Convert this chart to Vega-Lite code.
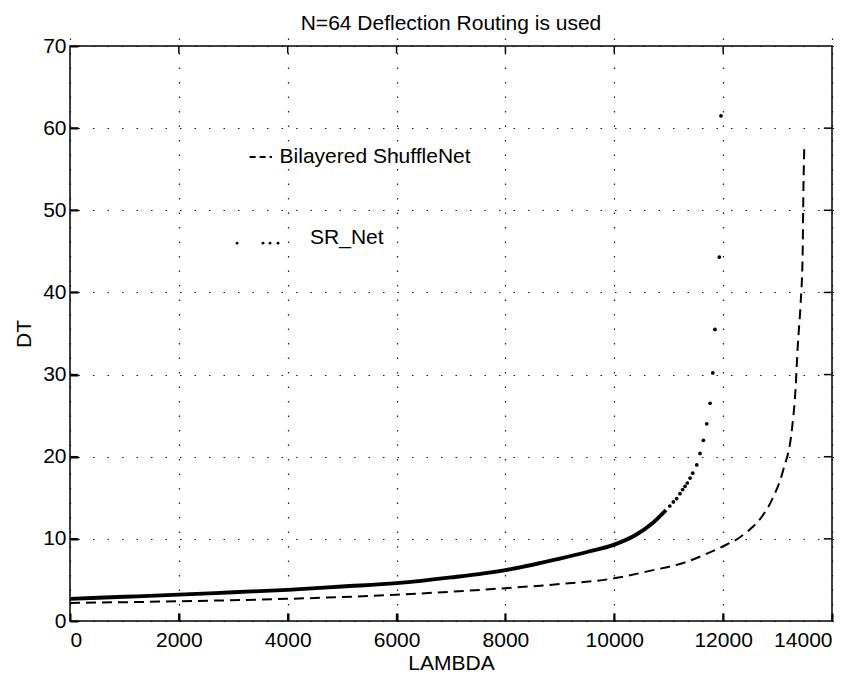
{
  "$schema": "https://vega.github.io/schema/vega-lite/v6.json",
  "width": 762,
  "height": 575,
  "autosize": {"type": "none"},
  "padding": {"left": 70, "top": 46, "right": 34, "bottom": 52},
  "background": "white",
  "config": {
    "font": "Liberation Sans",
    "view": {"stroke": "black", "strokeWidth": 1.5},
    "axis": {
      "domain": false,
      "ticks": true,
      "tickColor": "black",
      "tickOpacity": 1,
      "tickWidth": 2,
      "tickSize": 8,
      "offset": -8,
      "labelColor": "black",
      "labelFont": "Liberation Sans",
      "labelFontSize": 21,
      "titleColor": "black",
      "titleFont": "Liberation Sans",
      "titleFontSize": 21,
      "titleFontWeight": "normal",
      "gridColor": "black",
      "gridDash": [1.5, 13],
      "gridWidth": 1.2,
      "gridOpacity": 0.9
    }
  },
  "title": {
    "text": "N=64 Deflection Routing is used",
    "font": "Liberation Sans",
    "fontSize": 21,
    "fontWeight": "normal",
    "color": "black",
    "anchor": "middle",
    "offset": 1
  },
  "datasets": {
    "bilayer": [
      {"lambda": 0, "dt": 2.2},
      {"lambda": 2000, "dt": 2.4},
      {"lambda": 4000, "dt": 2.7},
      {"lambda": 6000, "dt": 3.2},
      {"lambda": 8000, "dt": 4.0},
      {"lambda": 9000, "dt": 4.5},
      {"lambda": 10000, "dt": 5.2},
      {"lambda": 10650, "dt": 6.1},
      {"lambda": 11330, "dt": 7.2},
      {"lambda": 11700, "dt": 8.2},
      {"lambda": 12000, "dt": 9.1},
      {"lambda": 12310, "dt": 10.2},
      {"lambda": 12500, "dt": 11.2},
      {"lambda": 12700, "dt": 12.6},
      {"lambda": 12900, "dt": 14.8},
      {"lambda": 13100, "dt": 18.3},
      {"lambda": 13270, "dt": 23.7},
      {"lambda": 13330, "dt": 28.2},
      {"lambda": 13370, "dt": 33.4},
      {"lambda": 13420, "dt": 38.3},
      {"lambda": 13460, "dt": 44.4},
      {"lambda": 13475, "dt": 52.6},
      {"lambda": 13490, "dt": 57.5}
    ],
    "srDense": [
      {"lambda": 0, "dt": 2.7},
      {"lambda": 1000, "dt": 2.95},
      {"lambda": 2000, "dt": 3.2},
      {"lambda": 3000, "dt": 3.5},
      {"lambda": 4000, "dt": 3.8},
      {"lambda": 5000, "dt": 4.2},
      {"lambda": 6000, "dt": 4.6},
      {"lambda": 7000, "dt": 5.3},
      {"lambda": 8000, "dt": 6.2},
      {"lambda": 9000, "dt": 7.6},
      {"lambda": 9500, "dt": 8.4},
      {"lambda": 10000, "dt": 9.3},
      {"lambda": 10400, "dt": 10.5},
      {"lambda": 10700, "dt": 11.9},
      {"lambda": 10950, "dt": 13.5}
    ],
    "srSparse": [
      {"lambda": 11020, "dt": 14.0},
      {"lambda": 11085, "dt": 14.5},
      {"lambda": 11146, "dt": 14.9},
      {"lambda": 11207, "dt": 15.5},
      {"lambda": 11256, "dt": 16.0},
      {"lambda": 11300, "dt": 16.4},
      {"lambda": 11342, "dt": 16.8},
      {"lambda": 11392, "dt": 17.4},
      {"lambda": 11441, "dt": 18.0},
      {"lambda": 11515, "dt": 19.0},
      {"lambda": 11576, "dt": 20.4},
      {"lambda": 11637, "dt": 22.0},
      {"lambda": 11699, "dt": 24.0},
      {"lambda": 11760, "dt": 26.5},
      {"lambda": 11810, "dt": 30.2},
      {"lambda": 11850, "dt": 35.5},
      {"lambda": 11930, "dt": 44.3},
      {"lambda": 11960, "dt": 61.5}
    ],
    "legendDash": [
      {"lambda": 3300, "dt": 56.5},
      {"lambda": 3710, "dt": 56.5}
    ],
    "legendDots": [
      {"lambda": 3070, "dt": 46.0},
      {"lambda": 3546, "dt": 46.0},
      {"lambda": 3675, "dt": 46.0},
      {"lambda": 3822, "dt": 46.0}
    ],
    "legendText": [
      {"lambda": 3850, "dt": 56.5, "label": "Bilayered ShuffleNet"},
      {"lambda": 4410, "dt": 46.6, "label": "SR_Net"}
    ],
    "xTicks": [
      {"lambda": 2000}, {"lambda": 4000}, {"lambda": 6000}, {"lambda": 8000}, {"lambda": 10000}, {"lambda": 12000}
    ],
    "yTicks": [
      {"dt": 10}, {"dt": 20}, {"dt": 30}, {"dt": 40}, {"dt": 50}, {"dt": 60}
    ]
  },
  "layer": [
    {
      "data": {"name": "bilayer"},
      "mark": {"type": "line", "color": "black", "strokeWidth": 2, "strokeDash": [10, 6], "interpolate": "monotone", "clip": true},
      "encoding": {
        "x": {
          "field": "lambda", "type": "quantitative",
          "scale": {"domain": [0, 14000], "nice": false, "zero": false},
          "axis": {"orient": "bottom", "title": "LAMBDA", "values": [0, 2000, 4000, 6000, 8000, 10000, 12000, 14000], "format": "d", "grid": true, "labelPadding": 8, "titlePadding": 2}
        },
        "y": {
          "field": "dt", "type": "quantitative",
          "scale": {"domain": [0, 70], "nice": false},
          "axis": {"orient": "left", "title": "DT", "values": [0, 10, 20, 30, 40, 50, 60, 70], "grid": true, "labelPadding": 4, "titlePadding": 8}
        }
      }
    },
    {
      "data": {"name": "srDense"},
      "mark": {"type": "line", "color": "black", "strokeWidth": 3.8, "interpolate": "monotone", "clip": true},
      "encoding": {
        "x": {"field": "lambda", "type": "quantitative", "axis": null},
        "y": {"field": "dt", "type": "quantitative", "axis": null}
      }
    },
    {
      "data": {"name": "srSparse"},
      "mark": {"type": "point", "filled": true, "color": "black", "opacity": 1, "size": 14},
      "encoding": {
        "x": {"field": "lambda", "type": "quantitative", "axis": null},
        "y": {"field": "dt", "type": "quantitative", "axis": null}
      }
    },
    {
      "data": {"name": "legendDash"},
      "mark": {"type": "line", "color": "black", "strokeWidth": 2, "strokeDash": [6, 4]},
      "encoding": {
        "x": {"field": "lambda", "type": "quantitative", "axis": null},
        "y": {"field": "dt", "type": "quantitative", "axis": null}
      }
    },
    {
      "data": {"name": "legendDots"},
      "mark": {"type": "point", "filled": true, "color": "black", "opacity": 1, "size": 8},
      "encoding": {
        "x": {"field": "lambda", "type": "quantitative", "axis": null},
        "y": {"field": "dt", "type": "quantitative", "axis": null}
      }
    },
    {
      "data": {"name": "legendText"},
      "mark": {"type": "text", "align": "left", "baseline": "middle", "font": "Liberation Sans", "fontSize": 21, "color": "black"},
      "encoding": {
        "x": {"field": "lambda", "type": "quantitative", "axis": null},
        "y": {"field": "dt", "type": "quantitative", "axis": null},
        "text": {"field": "label", "type": "nominal"}
      }
    },
    {
      "data": {"name": "xTicks"},
      "mark": {"type": "rule", "color": "black", "strokeWidth": 1.5},
      "encoding": {
        "x": {"field": "lambda", "type": "quantitative", "axis": null},
        "y": {"datum": 0, "type": "quantitative", "axis": null},
        "y2": {"datum": 0.9}
      }
    },
    {
      "data": {"name": "xTicks"},
      "mark": {"type": "rule", "color": "black", "strokeWidth": 1.5},
      "encoding": {
        "x": {"field": "lambda", "type": "quantitative", "axis": null},
        "y": {"datum": 70, "type": "quantitative", "axis": null},
        "y2": {"datum": 69.1}
      }
    },
    {
      "data": {"name": "yTicks"},
      "mark": {"type": "rule", "color": "black", "strokeWidth": 1.5},
      "encoding": {
        "y": {"field": "dt", "type": "quantitative", "axis": null},
        "x": {"datum": 0, "type": "quantitative", "axis": null},
        "x2": {"datum": 150}
      }
    },
    {
      "data": {"name": "yTicks"},
      "mark": {"type": "rule", "color": "black", "strokeWidth": 1.5},
      "encoding": {
        "y": {"field": "dt", "type": "quantitative", "axis": null},
        "x": {"datum": 14000, "type": "quantitative", "axis": null},
        "x2": {"datum": 13850}
      }
    }
  ],
  "resolve": {"axis": {"x": "independent", "y": "independent"}}
}
